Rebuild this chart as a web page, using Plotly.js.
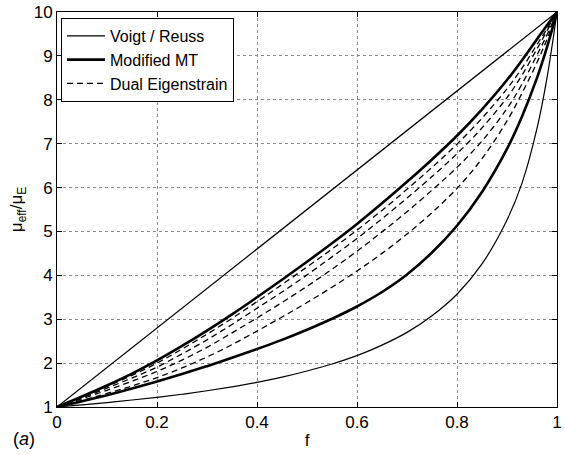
<!DOCTYPE html>
<html>
<head>
<meta charset="utf-8">
<script src="https://cdn.plot.ly/plotly-3.0.1.min.js"></script>
<style>
  html, body { margin: 0; padding: 0; background: #fff; }
  #chart { width: 565px; height: 455px; }
</style>
</head>
<body>
<div id="chart"></div>
<script>
// Volume fraction samples
const fVals = [0, 0.05, 0.1, 0.15, 0.2, 0.25, 0.3, 0.35, 0.4, 0.45, 0.5, 0.55, 0.6, 0.65, 0.7, 0.75, 0.8, 0.85, 0.9, 0.93, 0.96, 0.98, 1];

// Voigt (straight) bound
const voigtF = [0, 1];
const voigtY = [1, 10];

// Reuss bound
const reussY = [1, 1.05, 1.10, 1.16, 1.22, 1.29, 1.37, 1.46, 1.56, 1.68, 1.82, 1.98, 2.17, 2.41, 2.70, 3.08, 3.57, 4.26, 5.26, 6.1, 7.35, 8.5, 10];

// Modified MT (upper and lower)
const mtUpperY = [1, 1.24, 1.49, 1.76, 2.06, 2.39, 2.74, 3.11, 3.5, 3.9, 4.31, 4.73, 5.17, 5.64, 6.13, 6.64, 7.18, 7.78, 8.45, 8.9, 9.38, 9.7, 10];
const mtLowerY = [1, 1.13, 1.27, 1.42, 1.58, 1.75, 1.93, 2.12, 2.32, 2.53, 2.76, 3.01, 3.29, 3.62, 4.02, 4.52, 5.13, 5.9, 6.88, 7.62, 8.5, 9.2, 10];

// Dual Eigenstrain curves
const de1Y = [1, 1.23, 1.47, 1.72, 2.0, 2.32, 2.66, 3.02, 3.4, 3.79, 4.19, 4.6, 5.03, 5.48, 5.96, 6.46, 6.99, 7.58, 8.25, 8.72, 9.26, 9.62, 10];
const de2Y = [1, 1.21, 1.43, 1.66, 1.91, 2.21, 2.53, 2.88, 3.25, 3.62, 4.01, 4.42, 4.84, 5.29, 5.76, 6.25, 6.77, 7.36, 8.05, 8.56, 9.16, 9.57, 10];
const de3Y = [1, 1.19, 1.38, 1.59, 1.81, 2.07, 2.36, 2.69, 3.03, 3.38, 3.75, 4.14, 4.55, 4.99, 5.45, 5.94, 6.46, 7.06, 7.8, 8.36, 9.02, 9.48, 10];
const de4Y = [1, 1.15, 1.31, 1.48, 1.67, 1.89, 2.14, 2.42, 2.73, 3.05, 3.38, 3.73, 4.1, 4.5, 4.94, 5.43, 5.98, 6.66, 7.52, 8.15, 8.85, 9.38, 10];

const xTicks = [0, 0.2, 0.4, 0.6, 0.8, 1];
const xTickText = ['0', '0.2', '0.4', '0.6', '0.8', '1'];
const yTicks = [1, 2, 3, 4, 5, 6, 7, 8, 9, 10];

const thin = { color: '#000', width: 1.2 };
const thinCurve = { color: '#000', width: 1.2, shape: 'spline', smoothing: 1 };
const thick = { color: '#000', width: 2.6, shape: 'spline', smoothing: 1 };
const dashed = { color: '#000', width: 1.3, dash: '6px,4px', shape: 'spline', smoothing: 1 };

const traces = [
  { x: voigtF, y: voigtY, mode: 'lines', name: 'Voigt / Reuss', line: thin },
  { x: fVals, y: reussY, mode: 'lines', name: 'Reuss', showlegend: false, line: thinCurve },
  { x: fVals, y: mtUpperY, mode: 'lines', name: 'Modified MT', line: thick },
  { x: fVals, y: mtLowerY, mode: 'lines', name: 'Modified MT lower', showlegend: false, line: thick },
  { x: fVals, y: de1Y, mode: 'lines', name: 'Dual Eigenstrain', line: dashed },
  { x: fVals, y: de2Y, mode: 'lines', name: 'Dual Eigenstrain 2', showlegend: false, line: dashed },
  { x: fVals, y: de3Y, mode: 'lines', name: 'Dual Eigenstrain 3', showlegend: false, line: dashed },
  { x: fVals, y: de4Y, mode: 'lines', name: 'Dual Eigenstrain 4', showlegend: false, line: dashed }
];

const fontFam = 'Liberation Sans, Arial, Helvetica, sans-serif';

const axisCommon = {
  showline: true, linecolor: '#000', linewidth: 1, mirror: 'ticks',
  ticks: 'inside', ticklen: 5, tickcolor: '#000', tickwidth: 1,
  showgrid: true, gridcolor: '#8a8a8a', gridwidth: 1, griddash: 'dot',
  zeroline: false, tickfont: { family: fontFam, size: 17, color: '#000' }
};

const layout = {
  width: 565, height: 455,
  margin: { l: 57, r: 8, t: 12, b: 48 },
  paper_bgcolor: '#fff', plot_bgcolor: '#fff',
  font: { family: fontFam, size: 17, color: '#000' },
  showlegend: true,
  xaxis: Object.assign({}, axisCommon, {
    range: [0, 1], tickvals: xTicks, ticktext: xTickText,
    title: { text: 'f', font: { family: fontFam, size: 17 }, standoff: 2 }
  }),
  yaxis: Object.assign({}, axisCommon, {
    range: [1, 10], tickvals: yTicks,
    title: { text: 'μ<sub>eff</sub>/μ<sub>E</sub>', font: { family: fontFam, size: 17 }, standoff: 6 }
  }),
  legend: {
    x: 0.008, y: 0.985, xanchor: 'left', yanchor: 'top',
    bgcolor: '#fff', bordercolor: '#000', borderwidth: 1,
    font: { family: fontFam, size: 16, color: '#000' },
    tracegroupgap: 0, itemwidth: 38
  },
  annotations: [
    { xref: 'paper', yref: 'paper', x: -0.092, y: -0.08, xanchor: 'left', yanchor: 'middle',
      text: '(<i>a</i>)', showarrow: false, font: { family: fontFam, size: 18, color: '#000' } }
  ]
};

Plotly.newPlot('chart', traces, layout, { staticPlot: true, displayModeBar: false });
</script>
</body>
</html>
